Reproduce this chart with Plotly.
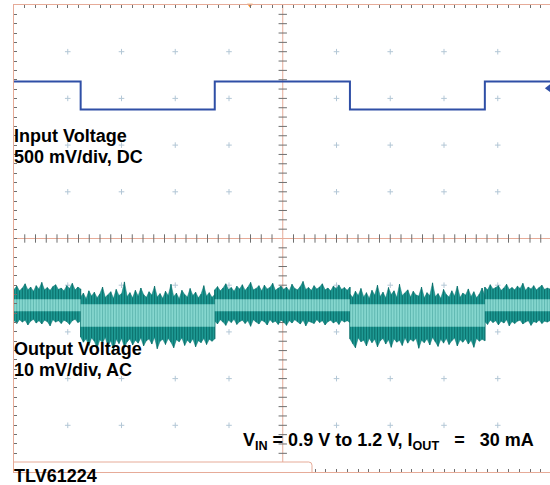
import numpy as np
import plotly.graph_objects as go

# ---------------- scope settings ----------------
X_DIVS_VISIBLE = 9.972          # the 10th horizontal division is cut at the right edge
Y_DIVS = 10
CH1_V_PER_DIV = 0.5             # input voltage: 500 mV/div, DC
CH1_OFFSET_DIV = 5.96
CH2_MV_PER_DIV = 10             # output voltage: 10 mV/div, AC
CH2_OFFSET_DIV = 3.6
TRIG_LEVEL_V = 1.13
TRIG_POS_DIV = 4.39

# ---------------- data ----------------
# input voltage steps (time in divisions, volts)
vin_t = [0.0, 1.24, 3.735, 6.25, 8.76, 9.972]
vin_v = [1.2, 0.9, 1.2, 0.9, 1.2, 1.2]

# output ripple: segment borders (div) follow the input steps
seg_bounds = [0.0, 1.24, 3.735, 6.25, 8.76, 9.972]

# peak envelope of the ripple (mV, AC coupled), read segment by segment
out_upper = [
    [3.1, 3.8, 2.8, 3.4, 4.3, 3.0, 3.6, 2.7, 3.9, 3.2, 4.6, 3.0, 3.5, 2.9, 3.7,
     4.1, 3.1, 3.4, 2.8, 3.9, 3.3, 4.4, 3.0, 3.6, 3.2],
    [1.5, 2.3, 1.1, 2.8, 1.7, 2.5, 1.3, 2.1, 3.6, 1.4, 1.9, 2.6, 1.2, 3.1, 1.8,
     2.2, 4.7, 1.6, 2.4, 1.3, 2.9, 1.7, 3.4, 2.0, 1.4, 2.6, 1.9, 3.8, 1.5, 2.2,
     1.2, 2.7, 1.8, 4.2, 1.6, 2.3, 1.1, 2.9, 2.0, 1.5, 3.3, 1.8, 2.5, 1.3, 2.1,
     3.9, 1.7, 2.4, 1.4, 2.0],
    [3.0, 3.7, 2.8, 3.4, 4.3, 3.1, 3.5, 2.7, 3.8, 3.2, 4.1, 2.9, 3.6, 4.6, 3.0,
     3.3, 3.9, 2.8, 4.0, 3.2, 3.5, 4.4, 2.9, 3.4, 3.8, 3.1, 3.6, 2.8, 4.2, 3.3,
     3.0, 3.7, 4.8, 3.1, 3.5, 2.9, 3.9, 3.2, 3.6, 4.3, 3.0, 3.4, 2.8, 3.8, 3.3,
     4.0, 3.1, 3.5, 2.9, 3.6],
    [2.1, 1.4, 2.7, 1.8, 3.3, 1.5, 2.4, 1.2, 2.9, 1.9, 4.0, 1.6, 2.5, 1.3, 3.5,
     2.0, 2.8, 1.4, 4.2, 1.8, 2.3, 3.0, 1.5, 2.7, 1.9, 1.7, 3.6, 1.3, 2.4, 1.8,
     4.5, 1.6, 2.2, 1.2, 3.1, 2.0, 1.5, 2.8, 1.7, 3.8, 1.4, 2.3, 1.9, 3.2, 1.6,
     2.6, 1.3, 2.1, 3.4, 1.8],
    [3.6, 3.0, 4.1, 3.2, 3.5, 3.9, 2.9, 3.4, 4.2, 3.1, 3.5, 3.0, 3.8, 3.3, 4.4,
     2.9, 3.6, 3.2, 3.9, 3.0, 3.5, 4.0, 3.1, 3.4, 3.2],
]
out_lower = [
    [-3.6, -4.2, -3.4, -3.9, -3.5, -4.5, -3.7, -3.3, -4.1, -3.6, -4.3, -3.5, -3.8,
     -4.7, -3.4, -3.9, -3.6, -4.2, -3.5, -3.8, -4.4, -3.6, -3.3, -4.0, -3.7],
    [-7.1, -8.2, -7.5, -8.9, -7.3, -8.0, -9.5, -7.7, -8.3, -7.2, -9.1, -7.9, -9.9,
     -7.6, -8.5, -7.4, -9.3, -8.1, -7.5, -8.8, -7.8, -8.4, -7.3, -9.0, -7.9, -7.5,
     -8.6, -7.2, -9.6, -8.0, -7.6, -8.7, -7.4, -8.2, -9.4, -7.7, -8.1, -7.3, -8.9,
     -7.8, -8.4, -7.5, -9.2, -7.9, -8.3, -7.4, -8.7, -7.6, -8.0, -7.5],
    [-3.7, -4.3, -3.4, -3.9, -4.6, -3.5, -4.0, -3.3, -4.4, -3.8, -3.5, -4.2, -3.6,
     -4.8, -3.4, -3.9, -4.3, -3.5, -3.8, -4.5, -3.4, -4.0, -3.7, -4.4, -3.5, -3.9,
     -4.6, -3.6, -4.1, -3.4, -3.8, -4.3, -3.5, -4.7, -3.7, -3.9, -4.2, -3.4, -4.0,
     -3.6, -4.5, -3.8, -3.5, -4.1, -3.7, -4.4, -3.5, -3.9, -3.6, -4.0],
    [-7.5, -8.5, -9.4, -7.3, -8.1, -7.8, -9.0, -7.4, -8.3, -7.6, -9.2, -7.9, -7.4,
     -8.6, -7.7, -9.3, -7.5, -8.2, -7.8, -8.9, -7.3, -8.4, -7.6, -8.0, -7.4, -9.5,
     -7.8, -8.3, -7.5, -8.8, -7.2, -8.1, -9.1, -7.6, -8.4, -7.4, -8.7, -7.9, -7.3,
     -9.0, -7.7, -8.2, -7.5, -8.6, -7.8, -9.3, -7.4, -8.0, -7.6, -7.9],
    [-3.8, -4.4, -3.5, -4.0, -3.6, -4.5, -3.7, -4.1, -3.4, -4.7, -3.8, -4.2, -3.7,
     -3.5, -4.3, -3.9, -3.6, -4.6, -3.8, -4.0, -3.5, -4.2, -3.7, -3.9, -3.6],
]
# dense (bright) core of the ripple per segment (mV)
core_upper = [1.0, -0.1, 1.0, -0.1, 1.0]
core_lower = [-1.6, -4.9, -1.6, -4.9, -1.6]

# ---------------- helpers ----------------
def ch1(v):
    return [CH1_OFFSET_DIV + x / CH1_V_PER_DIV for x in v]

def ch2(mv):
    return [CH2_OFFSET_DIV + x / CH2_MV_PER_DIV for x in mv]

env_t, env_up, env_lo = [], [], []
for i, (up, lo) in enumerate(zip(out_upper, out_lower)):
    ts = np.linspace(seg_bounds[i], seg_bounds[i + 1], len(up))
    env_t += list(ts)
    env_up += up
    env_lo += lo

# vertical streaks (one per sample) from the lower to the upper peak
streak_x, streak_y = [], []
for t, u, l in zip(env_t, ch2(env_up), ch2(env_lo)):
    streak_x += [t, t, None]
    streak_y += [l, u, None]

core_t = seg_bounds
core_up = core_upper + [core_upper[-1]]
core_lo = core_lower + [core_lower[-1]]

SALMON = "#e6ab98"
TICK = "#6f6f6f"
DOT = "#b3c7d6"
TEAL_DARK = "#1f9a94"
TEAL_EDGE = "#0c726e"
TEAL_LIGHT = "#86d7cf"
BLUE = "#2f4fa6"

fig = go.Figure()

# graticule dots at major divisions
gx, gy = [], []
for i in range(1, 10):
    for j in range(1, 10):
        if i == 5 or j == 5:
            continue
        gx.append(i)
        gy.append(j)
fig.add_trace(go.Scatter(x=gx, y=gy, mode="markers", hoverinfo="skip",
                         marker=dict(symbol="cross-thin", size=4,
                                     line=dict(width=1, color=DOT))))

# centre-line minor ticks
minor = [k * 0.2 for k in range(1, 50) if abs(k * 0.2 - 5) > 1e-6]
fig.add_trace(go.Scatter(x=minor, y=[5] * len(minor), mode="markers",
                         hoverinfo="skip",
                         marker=dict(symbol="line-ns", size=6,
                                     line=dict(width=1, color=TICK))))
fig.add_trace(go.Scatter(x=[5] * len(minor), y=minor, mode="markers",
                         hoverinfo="skip",
                         marker=dict(symbol="line-ew", size=6,
                                     line=dict(width=1, color=TICK))))

# output ripple envelope
fig.add_trace(go.Scatter(x=env_t, y=ch2(env_up), mode="lines", hoverinfo="skip",
                         line=dict(color=TEAL_EDGE, width=0.5)))
fig.add_trace(go.Scatter(x=env_t, y=ch2(env_lo), mode="lines", hoverinfo="skip",
                         line=dict(color=TEAL_EDGE, width=0.5),
                         fill="tonexty", fillcolor=TEAL_DARK))
fig.add_trace(go.Scatter(x=streak_x, y=streak_y, mode="lines", hoverinfo="skip",
                         line=dict(color=TEAL_EDGE, width=1)))
# bright core
fig.add_trace(go.Scatter(x=core_t, y=ch2(core_up), mode="lines", hoverinfo="skip",
                         line=dict(color=TEAL_LIGHT, width=0, shape="hv")))
fig.add_trace(go.Scatter(x=core_t, y=ch2(core_lo), mode="lines", hoverinfo="skip",
                         line=dict(color=TEAL_LIGHT, width=0, shape="hv"),
                         fill="tonexty", fillcolor=TEAL_LIGHT))
# streaks seen through the bright core
fig.add_trace(go.Scatter(x=streak_x, y=streak_y, mode="lines", hoverinfo="skip",
                         opacity=0.3, line=dict(color=TEAL_EDGE, width=1)))

# input voltage
fig.add_trace(go.Scatter(x=vin_t, y=ch1(vin_v), mode="lines", hoverinfo="skip",
                         line=dict(color=BLUE, width=2, shape="hv")))

# trigger markers
fig.add_trace(go.Scatter(x=[X_DIVS_VISIBLE - 0.03], y=ch1([TRIG_LEVEL_V]),
                         mode="markers", hoverinfo="skip", cliponaxis=False,
                         marker=dict(symbol="triangle-left", size=7, color=BLUE)))
fig.add_trace(go.Scatter(x=[TRIG_POS_DIV], y=[Y_DIVS], mode="markers",
                         hoverinfo="skip", cliponaxis=False,
                         marker=dict(symbol="triangle-down", size=5, color="#f08a24")))

# centre cross lines
fig.add_shape(type="line", x0=5, x1=5, y0=0, y1=Y_DIVS, layer="below",
              line=dict(color=SALMON, width=1))
fig.add_shape(type="line", x0=0, x1=X_DIVS_VISIBLE, y0=5, y1=5, layer="below",
              line=dict(color=SALMON, width=1))

# label box at bottom-left
BOX_X1 = 5.544
BOX_Y_TOP = 0.214
fig.add_shape(type="path", xref="x", yref="y", layer="above",
              path=f"M -0.3,{BOX_Y_TOP} L {BOX_X1-0.06},{BOX_Y_TOP} "
                   f"Q {BOX_X1},{BOX_Y_TOP} {BOX_X1},{BOX_Y_TOP-0.07} "
                   f"L {BOX_X1},-0.4 L -0.3,-0.4 Z",
              fillcolor="white", line=dict(color=SALMON, width=1))

FONT = dict(family="Liberation Sans, Arial, sans-serif", size=18, color="black")

def label(text, xpx, ypx):
    fig.add_annotation(text=f"<b>{text}</b>", xref="paper", yref="paper",
                       x=(xpx - 14) / 536, y=(472 - ypx) / 467,
                       xanchor="left", yanchor="middle", showarrow=False,
                       font=FONT, borderpad=0)

label("Input Voltage", 13, 136)
label("500 mV/div, DC", 13, 157)
label("Output Voltage", 13, 349)
label("10 mV/div, AC", 13, 370)
label("V<sub>IN</sub> = 0.9 V to 1.2 V, I<sub>OUT</sub> &nbsp;&nbsp;= &nbsp;&nbsp;30 mA",
      242, 441)
label("TLV61224", 13, 476)

fig.update_layout(
    width=550, height=485,
    margin=dict(l=14, r=0, t=5, b=13),
    paper_bgcolor="white", plot_bgcolor="white",
    showlegend=False,
    xaxis=dict(range=[0, X_DIVS_VISIBLE], showgrid=False, zeroline=False,
               showticklabels=False, showline=True, linecolor=SALMON,
               linewidth=1, mirror="ticks", ticks="inside", ticklen=3,
               tickcolor=TICK, tickwidth=1, tick0=0, dtick=0.2),
    yaxis=dict(range=[0, Y_DIVS], showgrid=False, zeroline=False,
               showticklabels=False, showline=True, linecolor=SALMON,
               linewidth=1, ticks="inside", ticklen=3, tickcolor=TICK,
               tickwidth=1, tick0=0, dtick=0.2),
)

fig.write_html("out.html",
               config={"displayModeBar": False},
               post_script="document.body.style.margin='0';"
                           "document.body.style.overflow='hidden';")
